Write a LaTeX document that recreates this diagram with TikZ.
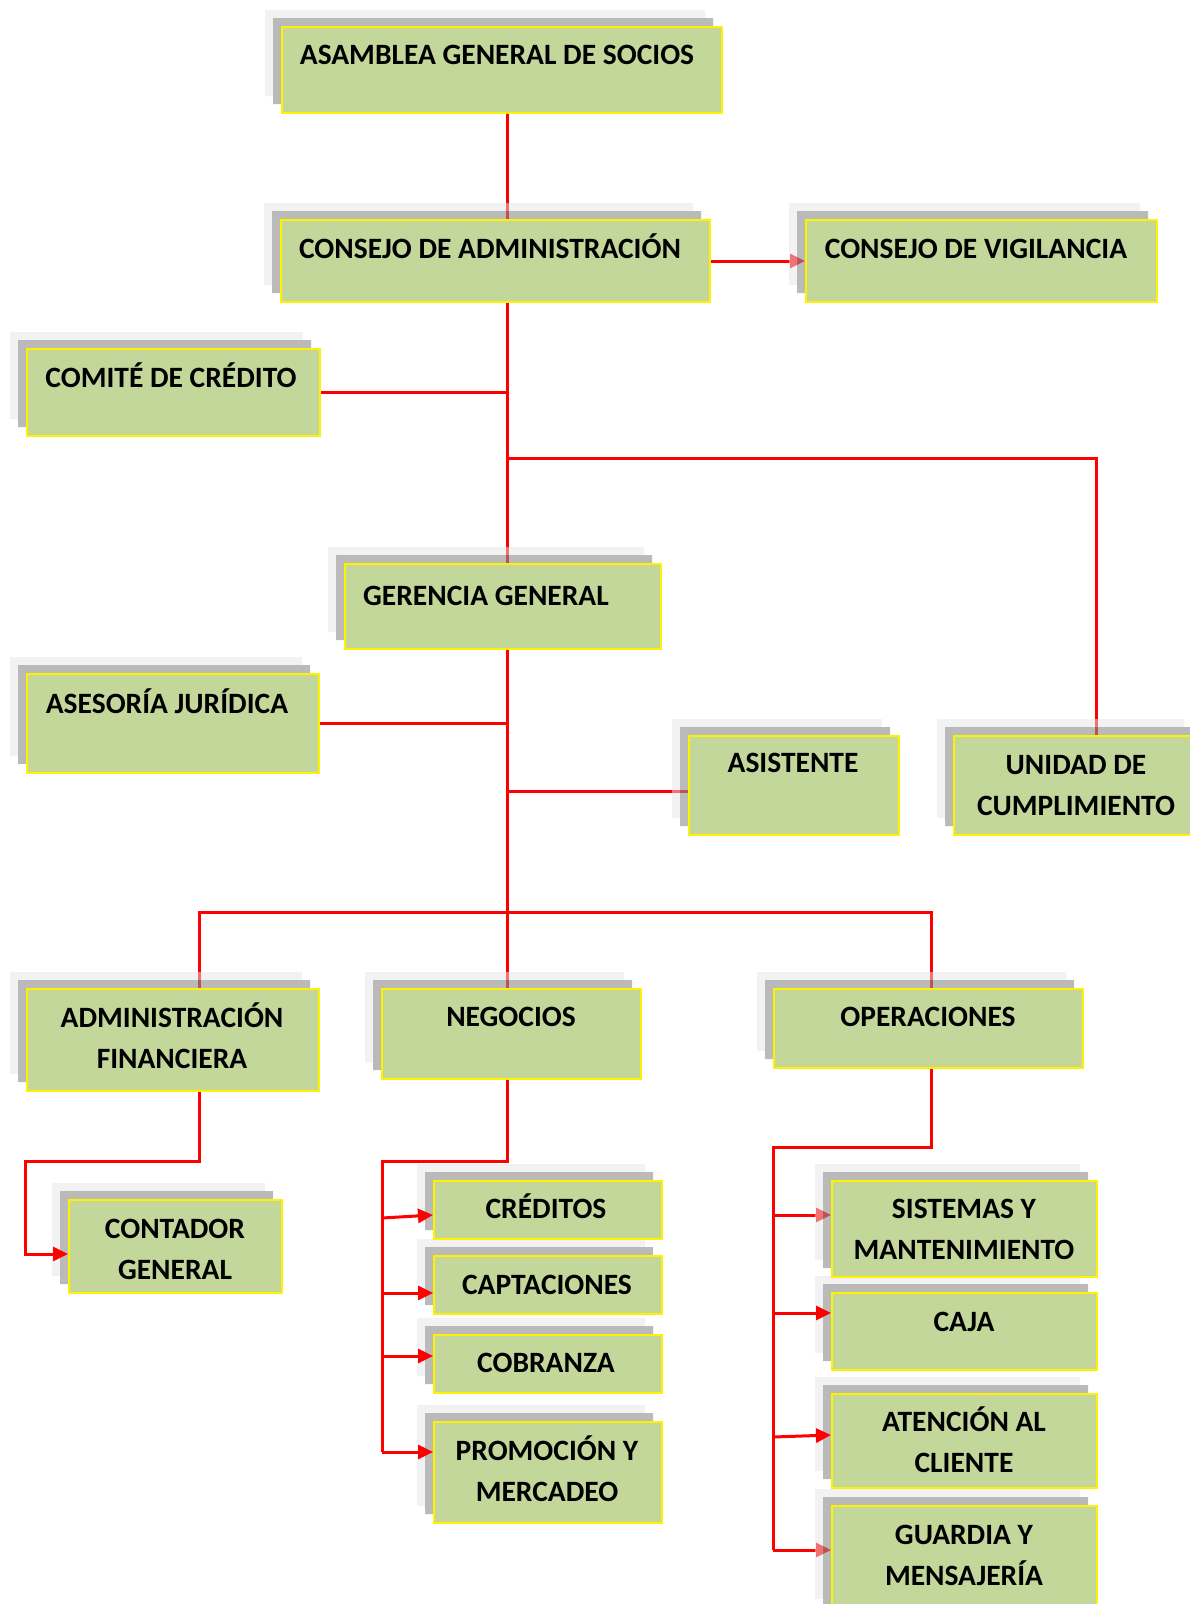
\documentclass[tikz,border=0pt]{standalone}
\usepackage{fontspec}
\setmainfont{Carlito}
\usetikzlibrary{arrows.meta}
\definecolor{boxgreen}{HTML}{C4D79B}
\pgfdeclarelayer{lines}
\pgfdeclarelayer{shadows}
\pgfsetlayers{lines,shadows,main}
\tikzset{
  orgbox/.style={draw=yellow, line width=2pt, fill=boxgreen, inner sep=0pt, rectangle},
  lbl/.style={font=\fontsize{29.5}{41.5}\selectfont\bfseries, align=center, inner sep=0pt, text=black, anchor=base},
  shlight/.style={fill=black!10, fill opacity=0.5},
  shdark/.style={fill=black!45, fill opacity=0.6},
  conn/.style={draw=red, line width=3pt},
  arrowconn/.style={conn, -{Triangle[length=15pt,width=14pt]}},
}
\newcommand{\orgbox}[5]{%
  \begin{pgfonlayer}{shadows}
    \fill[shlight] (#2-16,#3-16) -- (#4-16,#3-16) -- (#4-16,#3-8) -- (#2-8,#3-8) -- (#2-8,#5-16) -- (#2-16,#5-16) -- cycle;
    \fill[shdark] (#2-8,#3-8) -- (#4-8,#3-8) -- (#4-8,#3) -- (#2,#3) -- (#2,#5-8) -- (#2-8,#5-8) -- cycle;
  \end{pgfonlayer}
  \node[orgbox, anchor=north west, minimum width={#4-#2}, minimum height={#5-#3}] (#1) at (#2,#3) {};
}
\begin{document}
\begin{tikzpicture}[x=1pt,y=-1pt]
\useasboundingbox (0,0) rectangle (1189,1604);

% boxes
\orgbox{asamblea}{281}{26}{721}{112}
\orgbox{consejo}{280}{219}{709}{301}
\orgbox{vigilancia}{805}{219}{1156}{301}
\orgbox{comite}{26}{348}{319}{435}
\orgbox{gerencia}{344}{563}{660}{648}
\orgbox{asesoria}{26}{673}{318}{772}
\orgbox{asistente}{688}{735}{898}{834}
\orgbox{unidad}{953}{735}{1200}{834}
\orgbox{adminfin}{26}{988}{318}{1090}
\orgbox{negocios}{381}{988}{640}{1078}
\orgbox{operaciones}{773}{988}{1082}{1067}
\orgbox{contador}{68}{1199}{281}{1292}
\orgbox{creditos}{433}{1180}{661}{1238}
\orgbox{captaciones}{433}{1255}{661}{1313}
\orgbox{cobranza}{433}{1334}{661}{1392}
\orgbox{promocion}{433}{1421}{661}{1522}
\orgbox{sistemas}{831}{1180}{1096}{1276}
\orgbox{caja}{831}{1292}{1096}{1369}
\orgbox{atencion}{831}{1393}{1096}{1487}
\orgbox{guardia}{831}{1505}{1096}{1615}

% labels (anchor = baseline of the last line)
\node[lbl] (asamblea-t) at (497,64.5) {ASAMBLEA GENERAL DE SOCIOS};
\node[lbl] (consejo-t) at (490,258.5) {CONSEJO DE ADMINISTRACIÓN};
\node[lbl] (vigilancia-t) at (976,258.5) {CONSEJO DE VIGILANCIA};
\node[lbl] (comite-t) at (171,387.5) {COMITÉ DE CRÉDITO};
\node[lbl] (gerencia-t) at (486,605.5) {GERENCIA GENERAL};
\node[lbl] (asesoria-t) at (167,713.5) {ASESORÍA JURÍDICA};
\node[lbl] (asistente-t) at (793,772.5) {ASISTENTE};
\node[lbl] (unidad-t) at (1076,815.5) {UNIDAD DE\\CUMPLIMIENTO};
\node[lbl] (adminfin-t) at (172,1068.5) {ADMINISTRACIÓN\\FINANCIERA};
\node[lbl] (negocios-t) at (511,1026.5) {NEGOCIOS};
\node[lbl] (operaciones-t) at (928,1026.5) {OPERACIONES};
\node[lbl] (contador-t) at (175,1279.5) {CONTADOR\\GENERAL};
\node[lbl] (creditos-t) at (546,1218.5) {CRÉDITOS};
\node[lbl] (captaciones-t) at (547,1294.5) {CAPTACIONES};
\node[lbl] (cobranza-t) at (546,1372.5) {COBRANZA};
\node[lbl] (promocion-t) at (547,1501.5) {PROMOCIÓN Y\\MERCADEO};
\node[lbl] (sistemas-t) at (964,1259.5) {SISTEMAS Y\\MANTENIMIENTO};
\node[lbl] (caja-t) at (964,1331.5) {CAJA};
\node[lbl] (atencion-t) at (964,1472.5) {ATENCIÓN AL\\CLIENTE};
\node[lbl] (guardia-t) at (964,1585.5) {GUARDIA Y\\MENSAJERÍA};

% helper coordinates
\coordinate (tx) at (507,0);
\coordinate (b1) at (507,458);
\coordinate (ux) at (1096,458);
\coordinate (as) at (507,791);
\coordinate (bl) at (199,912);
\coordinate (br) at (931,912);
\coordinate (c1) at (199,1161);
\coordinate (c2) at (25,1161);
\coordinate (c3) at (25,1254);
\coordinate (n1) at (507,1161);
\coordinate (n2) at (382,1161);
\coordinate (n3) at (382,1452);
\coordinate (na1) at (382,1218);
\coordinate (ne1) at (433,1215);
\coordinate (na2) at (382,1293);
\coordinate (na3) at (382,1356);
\coordinate (o1) at (931,1147);
\coordinate (o2) at (773,1147);
\coordinate (o3) at (773,1550);
\coordinate (oa1) at (773,1215);
\coordinate (oa2) at (773,1313);
\coordinate (oa3) at (773,1437);
\coordinate (oe3) at (831,1435);

% connectors below shadows
\begin{pgfonlayer}{lines}
  \draw[conn] (asamblea.south -| tx) -- (consejo.north -| tx);
  \draw[arrowconn] (consejo.east) -- (vigilancia.west);
  \draw[conn] (consejo.south -| tx) -- (gerencia.north -| tx);
  \draw[conn] (comite.east) -- (comite.east -| tx);
  \draw[conn] (b1) -- (ux) -- (ux |- unidad.north);
  \draw[conn] (gerencia.south -| tx) -- (negocios.north -| tx);
  \draw[conn] (asesoria.east) -- (asesoria.east -| tx);
  \draw[conn] (as) -- (as -| asistente.west);
  \draw[conn] (bl |- adminfin.north) -- (bl) -- (br) -- (br |- operaciones.north);
  \draw[arrowconn] (oa1) -- (oa1 -| sistemas.west);
  \draw[arrowconn] (o3) -- (o3 -| guardia.west);
\end{pgfonlayer}

% connectors on top
\draw[arrowconn] (c1 |- adminfin.south) -- (c1) -- (c2) -- (c3) -- (c3 -| contador.west);
\draw[conn] (n1 |- negocios.south) -- (n1) -- (n2) -- (n3);
\draw[arrowconn] (na1) -- (ne1);
\draw[arrowconn] (na2) -- (na2 -| captaciones.west);
\draw[arrowconn] (na3) -- (na3 -| cobranza.west);
\draw[arrowconn] (n3) -- (n3 -| promocion.west);
\draw[conn] (o1 |- operaciones.south) -- (o1) -- (o2) -- (o3);
\draw[arrowconn] (oa2) -- (oa2 -| caja.west);
\draw[arrowconn] (oa3) -- (oe3);
\end{tikzpicture}
\end{document}
